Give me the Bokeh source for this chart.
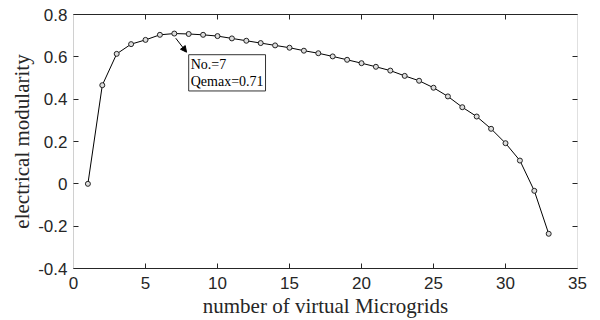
from bokeh.plotting import figure
from bokeh.models import LinearAxis, Range1d, Label, Arrow, NormalHead, FixedTicker, ColumnDataSource
from bokeh.embed import file_html
from bokeh.resources import INLINE

x_vals = list(range(1, 34))
modularity = [0.000, 0.466, 0.614, 0.660, 0.680, 0.704, 0.710, 0.708, 0.704, 0.698,
              0.687, 0.676, 0.665, 0.654, 0.643, 0.629, 0.617, 0.602, 0.586, 0.570,
              0.553, 0.535, 0.510, 0.487, 0.454, 0.413, 0.362, 0.318, 0.260, 0.192,
              0.110, -0.033, -0.236]
x_ticks = [0, 5, 10, 15, 20, 25, 30, 35]
y_ticks = [-0.4, -0.2, 0, 0.2, 0.4, 0.6, 0.8]

imax = max(range(len(modularity)), key=lambda i: modularity[i])
xmax, ymax = x_vals[imax], modularity[imax]

src = ColumnDataSource(dict(x=x_vals, y=modularity))

p = figure(width=600, height=320, output_backend="svg", toolbar_location=None,
           x_range=Range1d(0, 35), y_range=Range1d(-0.4, 0.8),
           min_border_left=73, min_border_right=23, min_border_top=14, min_border_bottom=52)
p.outline_line_color = None
p.grid.grid_line_color = None
p.background_fill_color = "white"

p.line("x", "y", source=src, line_color="black", line_width=1)
p.scatter("x", "y", source=src, size=5, line_color="#222222", fill_color="#dddddd", line_width=1)

tick_color = "#262626"
def style(ax):
    ax.major_tick_in = 5
    ax.major_tick_out = 0
    ax.minor_tick_line_color = None
    ax.major_tick_line_color = "#262626"
    ax.major_label_text_font = "Liberation Sans"
    ax.major_label_text_font_size = "17px"
    ax.major_label_text_color = tick_color

def style_blank(ax):
    ax.minor_tick_in = 5
    ax.minor_tick_out = 0
    ax.minor_tick_line_color = "#262626"
    ax.major_tick_line_color = None
    ax.major_label_text_font_size = "0px"

xa = p.xaxis[0]
xa.ticker = FixedTicker(ticks=x_ticks)
style(xa)
xa.axis_line_color = "#262626"
xa.major_label_standoff = 8
xa.axis_label = "number of virtual Microgrids"
xa.axis_label_text_font = "Liberation Serif"
xa.axis_label_text_font_size = "21px"
xa.axis_label_text_font_style = "normal"
xa.axis_label_text_color = tick_color
xa.axis_label_standoff = 2

ya = p.yaxis[0]
ya.ticker = FixedTicker(ticks=y_ticks)
ya.major_label_overrides = {-0.4: "-0.4", -0.2: "-0.2", 0: "0", 0.2: "0.2", 0.4: "0.4", 0.6: "0.6", 0.8: "0.8"}
style(ya)
ya.axis_line_color = "#d0d0d0"
ya.major_label_standoff = 6
ya.axis_label = "electrical modularity"
ya.axis_label_text_font = "Liberation Serif"
ya.axis_label_text_font_size = "21px"
ya.axis_label_text_font_style = "normal"
ya.axis_label_text_color = tick_color
ya.axis_label_standoff = 1

top = LinearAxis(ticker=FixedTicker(ticks=[], minor_ticks=x_ticks))
style_blank(top)
top.axis_line_color = "#262626"
p.add_layout(top, "above")

right = LinearAxis(ticker=FixedTicker(ticks=[], minor_ticks=y_ticks))
style_blank(right)
right.axis_line_color = "#e0e0e0"
p.add_layout(right, "right")

p.add_layout(Arrow(end=NormalHead(size=6, fill_color="black", line_color="black"),
                   x_start=xmax + 0.1, y_start=ymax - 0.022,
                   x_end=xmax + 0.85, y_end=ymax - 0.088,
                   line_color="black", line_width=1))

p.add_layout(Label(x=xmax + 1.0, y=ymax - 0.1, text=f"No.={xmax}\nQemax={ymax:.2f}",
                   text_font="Liberation Serif", text_font_size="14px", text_color="black",
                   text_align="left", text_baseline="top", text_line_height=1.15,
                   border_line_color="#333333", border_line_width=1,
                   background_fill_color="white", padding=2))

open("out.html", "w").write(file_html(p, INLINE))
